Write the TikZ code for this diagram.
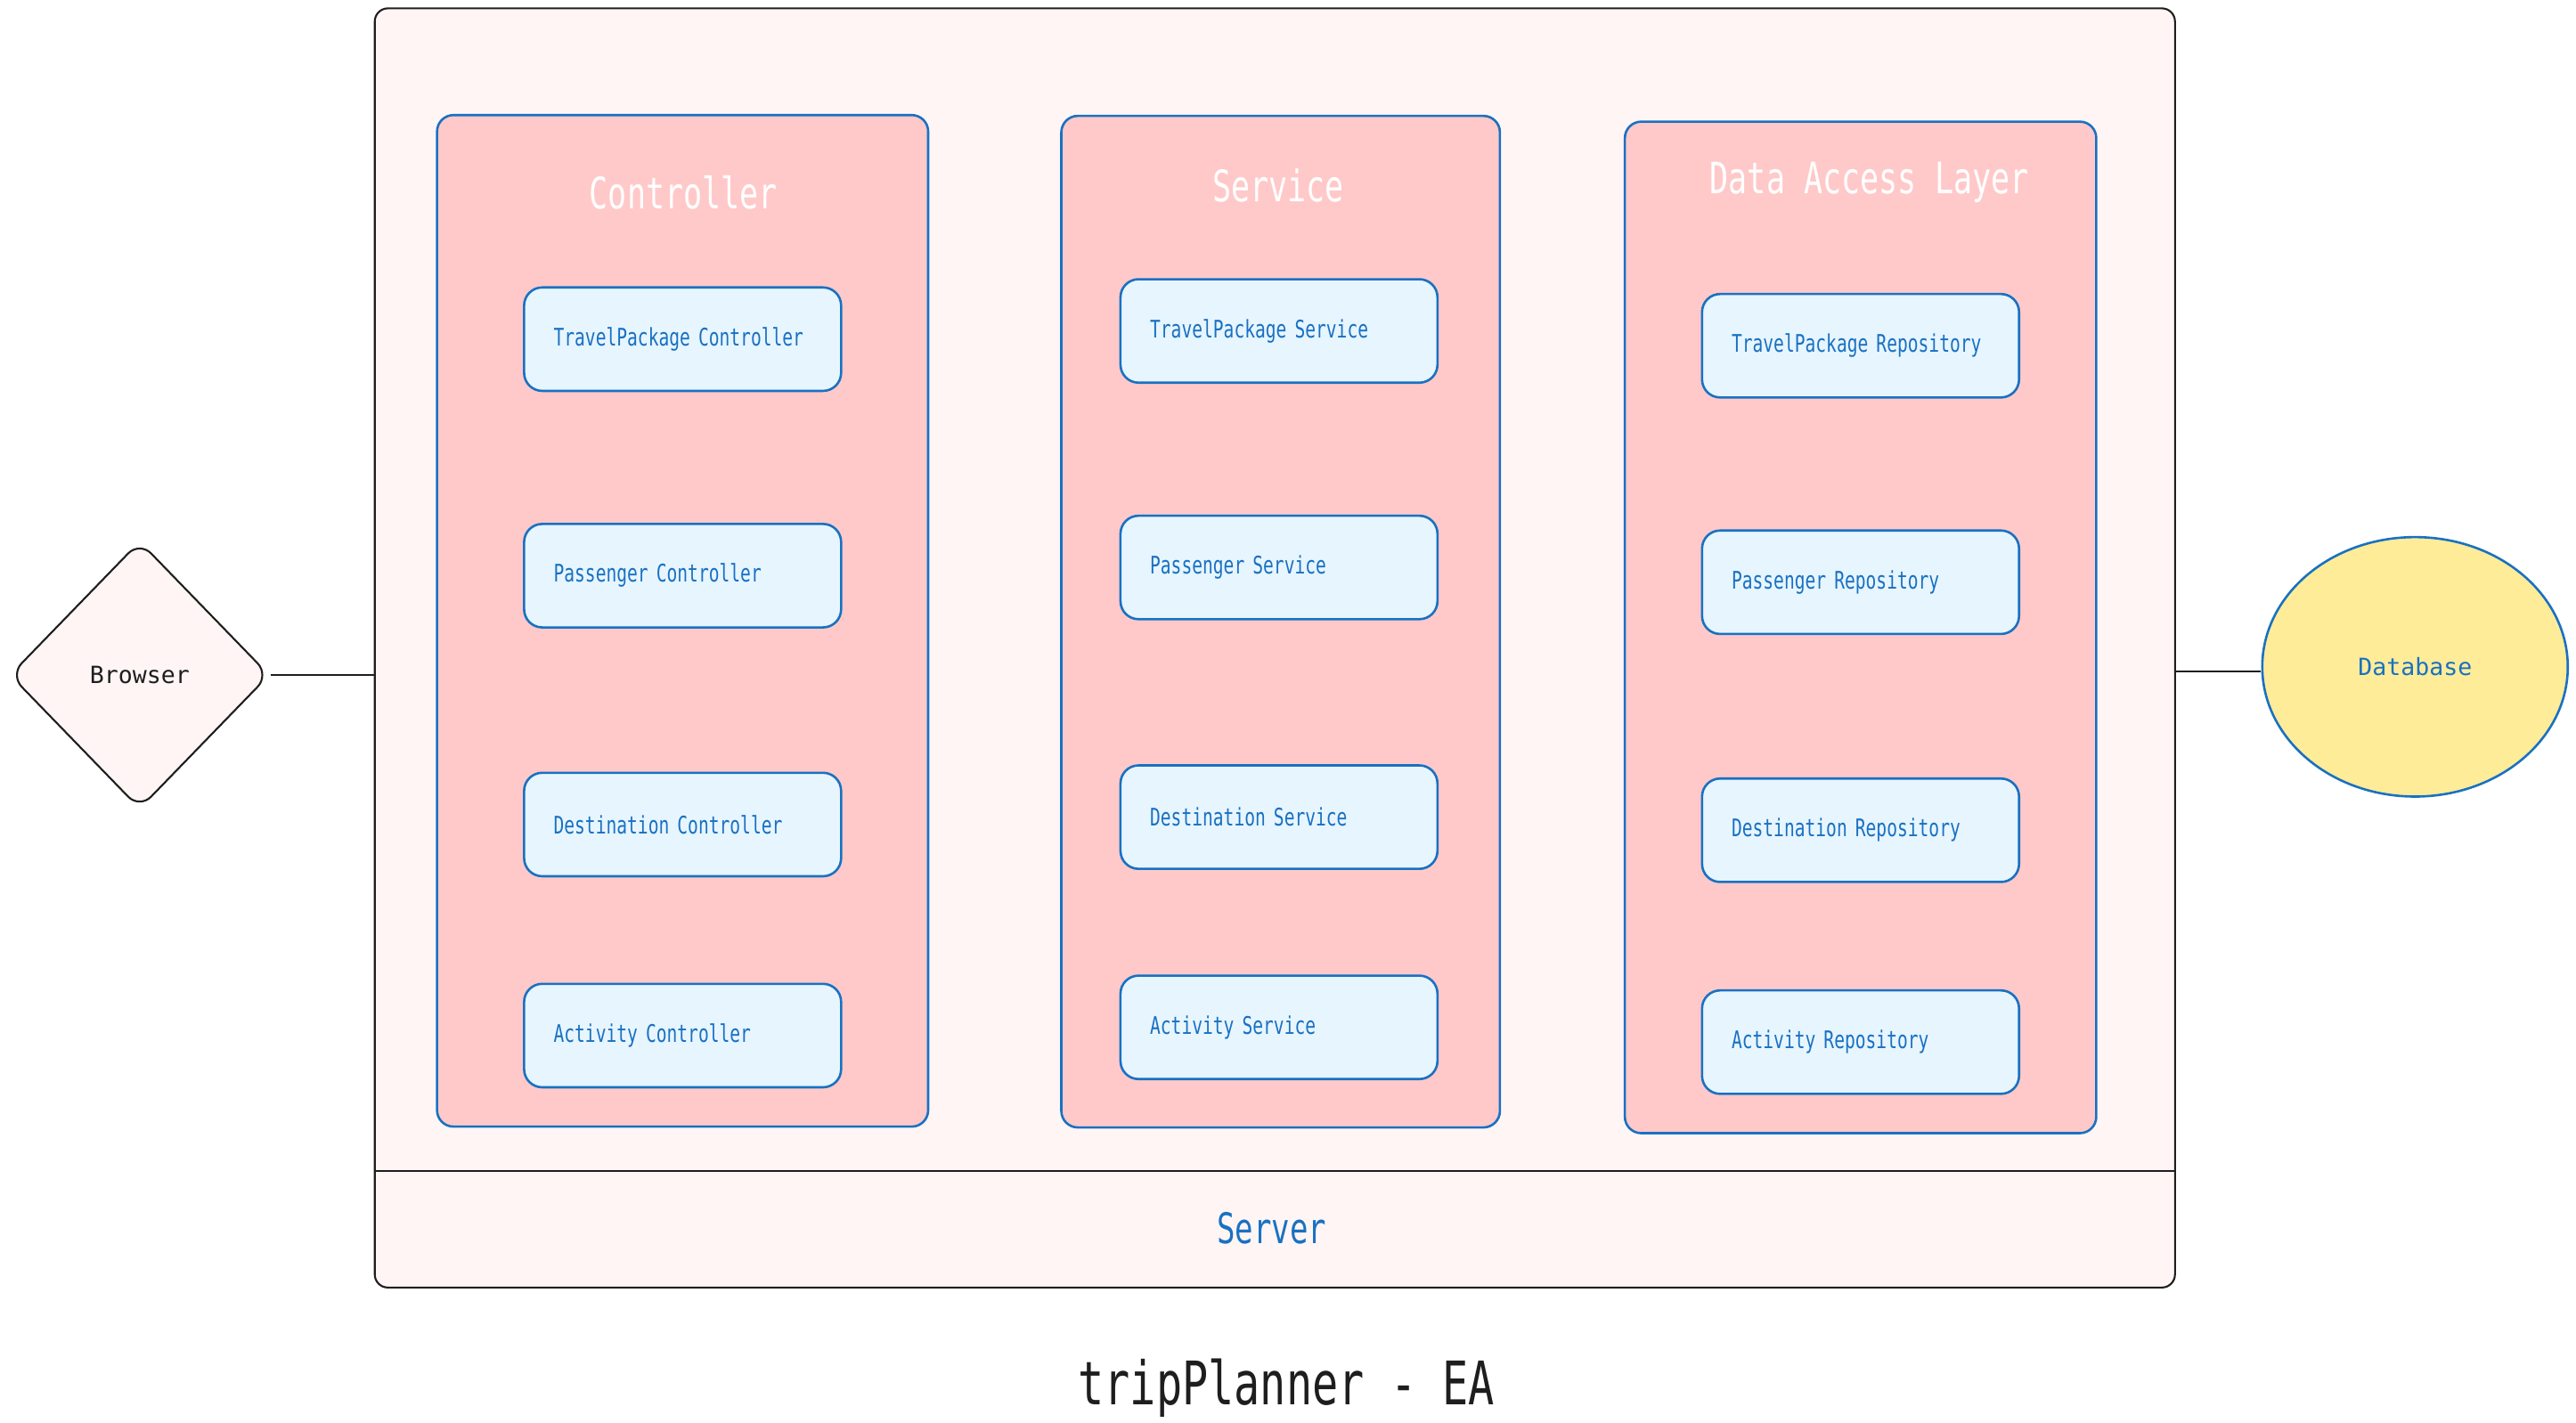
\documentclass[tikz,border=0pt]{standalone}
\usepackage{fontspec}
\setmonofont{DejaVu Sans Mono}
\newfontfamily\narrowmono[FakeStretch=0.72]{DejaVu Sans Mono}
\usetikzlibrary{shapes.geometric}
\definecolor{serverfill}{HTML}{FFF5F5}
\definecolor{layerfill}{HTML}{FFC9C9}
\definecolor{compfill}{HTML}{E7F5FF}
\definecolor{dbfill}{HTML}{FFEC99}
\definecolor{inkblue}{HTML}{1971C2}
\definecolor{ink}{HTML}{1E1E1E}
\tikzset{
    layer/.style={draw=inkblue, line width=0.8pt, fill=layerfill, rounded corners=0.2cm, minimum height=12.32cm},
    layertitle/.style={text=white, font=\narrowmono\fontsize{15}{17}\selectfont},
    comp/.style={draw=inkblue, line width=0.8pt, fill=compfill, rounded corners=0.22cm, text=inkblue,
        minimum height=1.26cm, text width=3.14cm, inner xsep=0.36cm, align=left,
        font=\narrowmono\fontsize{8.4}{10}\selectfont},
}
\begin{document}
\begin{tikzpicture}[x=0.02cm, y=-0.02cm]
        \useasboundingbox (0,0) rectangle (1568,866);
        % server box
        \node[draw=ink, line width=0.65pt, fill=serverfill, rounded corners=0.16cm, minimum width=21.92cm, minimum height=15.58cm] (server) at (776,394.5) {};
        \coordinate (divl) at (228,713);
        \coordinate (divr) at (1324,713);
        \path[draw=ink, line width=0.65pt] (divl) -- (divr);
        \node[text=inkblue, font=\narrowmono\fontsize{14.6}{16}\selectfont] (serverlbl) at (774,748) {Server};
        % layers
        \node[layer, minimum width=5.98cm] (ctrl) at (415.5,378) {};
        \node[layer, minimum width=5.34cm] (svc) at (779.5,378.5) {};
        \node[layer, minimum width=5.74cm] (dal) at (1132.5,382) {};
        \node[layertitle] (ctrltitle) at (416,117) {Controller};
        \node[layertitle] (svctitle) at (778,113) {Service};
        \node[layertitle] (daltitle) at (1138,111) {Data Access Layer};
        % controller
        \node[comp] (c1) at (415.5,206.5) {TravelPackage Controller};
        \node[comp] (c2) at (415.5,350.5) {Passenger Controller};
        \node[comp] (c3) at (415.5,502) {Destination Controller};
        \node[comp] (c4) at (415.5,630.5) {Activity Controller};
        % service
        \node[comp] (s1) at (778.5,201.5) {TravelPackage Service};
        \node[comp] (s2) at (778.5,345.5) {Passenger Service};
        \node[comp] (s3) at (778.5,497.5) {Destination Service};
        \node[comp] (s4) at (778.5,625.5) {Activity Service};
        % repositories
        \node[comp] (r1) at (1132.5,210.5) {TravelPackage Repository};
        \node[comp] (r2) at (1132.5,354.5) {Passenger Repository};
        \node[comp] (r3) at (1132.5,505.5) {Destination Repository};
        \node[comp] (r4) at (1132.5,634.5) {Activity Repository};
        % outside
        \node[draw=ink, line width=0.65pt, fill=serverfill, diamond, rounded corners=0.2cm, minimum width=3.16cm, minimum height=3.26cm, inner sep=0pt,
            font=\ttfamily\fontsize{8.2}{10}\selectfont, text=ink] (browser) at (85,411) {Browser};
        \node[draw=inkblue, line width=0.8pt, fill=dbfill, ellipse, minimum width=3.72cm, minimum height=3.16cm,
            font=\ttfamily\fontsize{8.2}{10}\selectfont, text=inkblue] (db) at (1470,406) {Database};
        \path[draw=ink, line width=0.65pt] (browser.east) -- (browser.east -| server.west);
        \path[draw=ink, line width=0.65pt] (server.east |- 0,409) -- (db.west |- 0,409);
        \node[text=ink, font=\narrowmono\fontsize{20.8}{24}\selectfont] (title) at (783,845) {tripPlanner - EA};
    \end{tikzpicture}
\end{document}
